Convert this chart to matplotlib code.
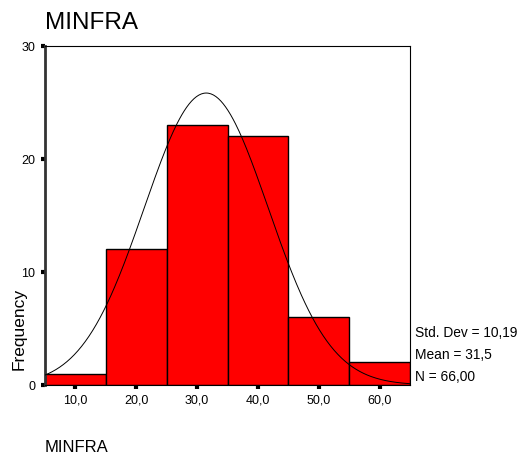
import numpy as np
import matplotlib.pyplot as plt

plt.rcParams['font.family'] = ['Liberation Sans', 'DejaVu Sans']

# histogram data (bin centres and counts)
bin_centers = [10, 20, 30, 40, 50, 60]
counts = [1, 12, 23, 22, 6, 2]
bin_width = 10
x_ticks = [10, 20, 30, 40, 50, 60]
x_labels = ['10,0', '20,0', '30,0', '40,0', '50,0', '60,0']
y_ticks = [0, 10, 20, 30]
std_dev = 10.19
mean = 31.5
n_obs = 66

fig = plt.figure(figsize=(5.24, 4.57), dpi=100)
ax = fig.add_axes([0.0859, 0.1575, 0.6966, 0.7418])

ax.bar(bin_centers, counts, width=bin_width, color='#ff0000',
       edgecolor='black', linewidth=1.0, zorder=2)

# normal curve
xs = np.linspace(5, 65, 300)
ys = n_obs * bin_width / (std_dev * np.sqrt(2 * np.pi)) * np.exp(-0.5 * ((xs - mean) / std_dev) ** 2)
ax.plot(xs, ys, color='black', linewidth=0.7, zorder=3)

ax.set_xlim(5, 65)
ax.set_ylim(0, 30)
ax.set_xticks(x_ticks)
ax.set_xticklabels(x_labels, fontsize=9)
ax.set_yticks(y_ticks)
ax.set_yticklabels([str(v) for v in y_ticks], fontsize=9)
ax.tick_params(axis='both', length=3, width=3, color='black', pad=4)

for s in ['top', 'right', 'bottom']:
    ax.spines[s].set_linewidth(0.8)
ax.spines['left'].set_linewidth(2.0)
ax.spines['left'].set_color('#333333')

fig.text(0.036, 0.28, 'Frequency', fontsize=12.5, rotation=90, ha='center', va='center')
fig.text(0.0859, 0.9365, 'MINFRA', fontsize=17.5, ha='left', va='baseline')
fig.text(0.0859, 0.011, 'MINFRA', fontsize=12, ha='left', va='baseline')

stats = ['Std. Dev = %s' % ('%.2f' % std_dev).replace('.', ','),
         'Mean = %s' % ('%.1f' % mean).replace('.', ','),
         'N = %s' % ('%.2f' % n_obs).replace('.', ',')]
for i, t in enumerate(stats):
    fig.text(0.792, 0.271 - i * 0.048, t, fontsize=9.9, ha='left', va='center')

fig.savefig('out.png', dpi=100)
